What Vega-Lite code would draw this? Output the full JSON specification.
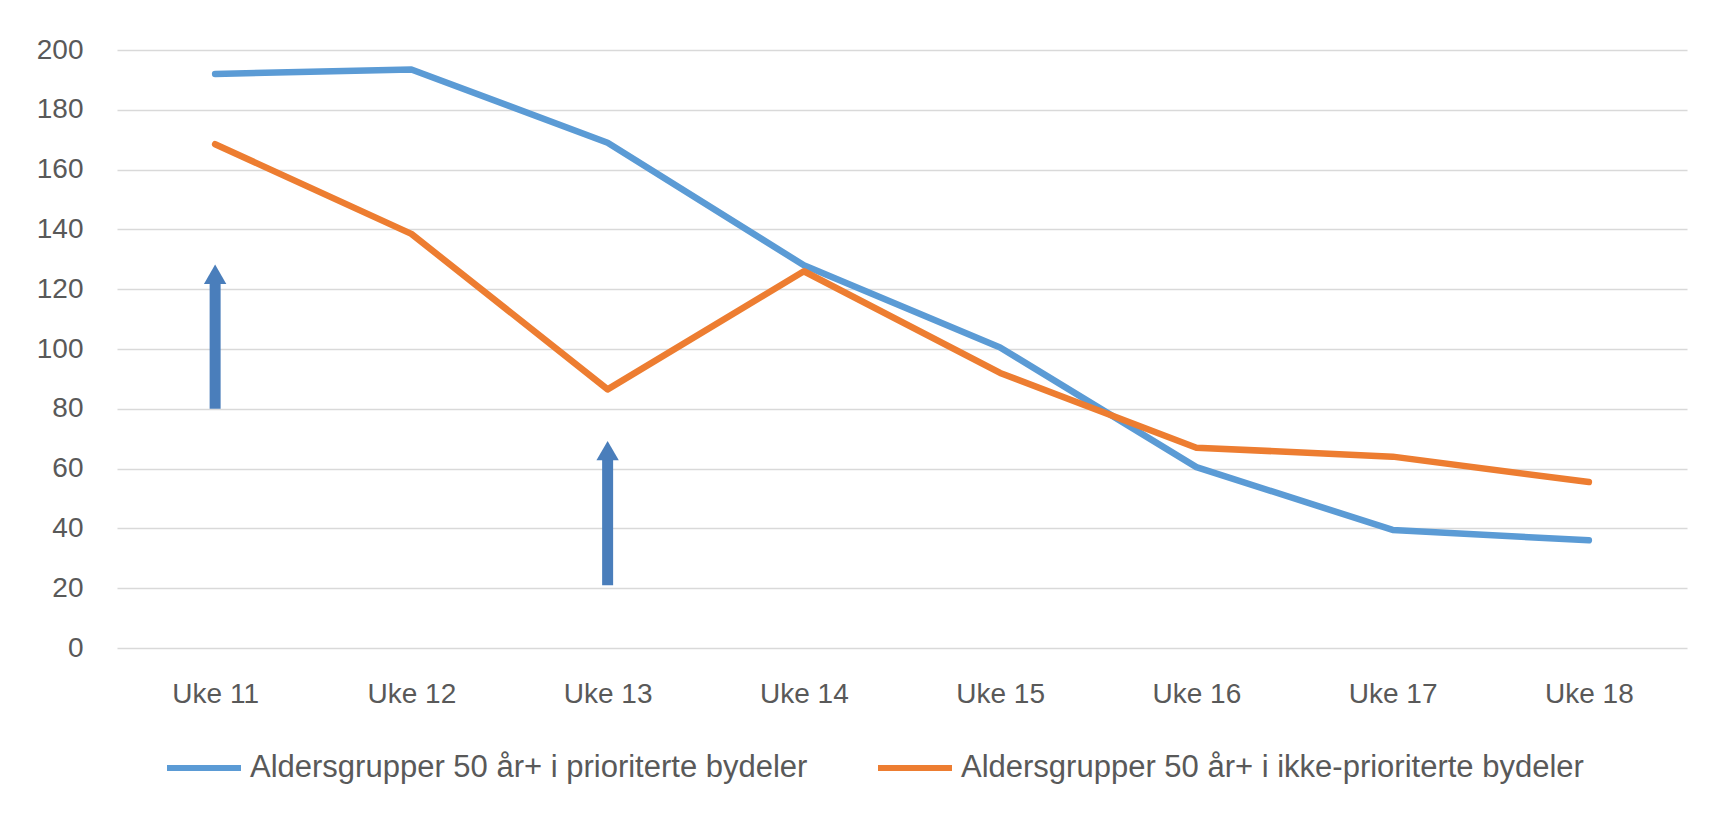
{
  "$schema": "https://vega.github.io/schema/vega-lite/v6.json",
  "width": 1570,
  "height": 598,
  "autosize": "none",
  "padding": {"left": 117, "top": 50, "right": 24, "bottom": 169},
  "background": "white",
  "config": {
    "view": {"stroke": null},
    "font": "Liberation Sans",
    "axis": {"labelColor": "#595959", "labelFontSize": 28, "ticks": false, "domain": false, "title": null, "gridColor": "#d9d9d9", "gridWidth": 1.5}
  },
  "datasets": {
    "series": [
      {"week": "Uke 11", "group": "Aldersgrupper 50 år+ i prioriterte bydeler", "value": 192},
      {"week": "Uke 12", "group": "Aldersgrupper 50 år+ i prioriterte bydeler", "value": 193.5},
      {"week": "Uke 13", "group": "Aldersgrupper 50 år+ i prioriterte bydeler", "value": 169},
      {"week": "Uke 14", "group": "Aldersgrupper 50 år+ i prioriterte bydeler", "value": 128},
      {"week": "Uke 15", "group": "Aldersgrupper 50 år+ i prioriterte bydeler", "value": 100.5},
      {"week": "Uke 16", "group": "Aldersgrupper 50 år+ i prioriterte bydeler", "value": 60.5},
      {"week": "Uke 17", "group": "Aldersgrupper 50 år+ i prioriterte bydeler", "value": 39.5},
      {"week": "Uke 18", "group": "Aldersgrupper 50 år+ i prioriterte bydeler", "value": 36},
      {"week": "Uke 11", "group": "Aldersgrupper 50 år+ i ikke-prioriterte bydeler", "value": 168.5},
      {"week": "Uke 12", "group": "Aldersgrupper 50 år+ i ikke-prioriterte bydeler", "value": 138.5},
      {"week": "Uke 13", "group": "Aldersgrupper 50 år+ i ikke-prioriterte bydeler", "value": 86.5},
      {"week": "Uke 14", "group": "Aldersgrupper 50 år+ i ikke-prioriterte bydeler", "value": 126},
      {"week": "Uke 15", "group": "Aldersgrupper 50 år+ i ikke-prioriterte bydeler", "value": 92},
      {"week": "Uke 16", "group": "Aldersgrupper 50 år+ i ikke-prioriterte bydeler", "value": 67},
      {"week": "Uke 17", "group": "Aldersgrupper 50 år+ i ikke-prioriterte bydeler", "value": 64},
      {"week": "Uke 18", "group": "Aldersgrupper 50 år+ i ikke-prioriterte bydeler", "value": 55.5}
    ],
    "arrows": [
      {"week": "Uke 11", "from": 80, "to": 122, "tip": 125},
      {"week": "Uke 13", "from": 21, "to": 63, "tip": 66}
    ]
  },
  "layer": [
    {
      "data": {"name": "series"},
      "mark": {"type": "line", "strokeWidth": 6.5, "strokeCap": "round", "strokeJoin": "round"},
      "encoding": {
        "x": {"field": "week", "type": "ordinal", "scale": {"type": "point", "padding": 0.5}, "axis": {"labelPadding": 32, "grid": false, "labelAngle": 0}},
        "y": {"field": "value", "type": "quantitative", "scale": {"domain": [0, 200], "nice": false}, "axis": {"values": [0,20,40,60,80,100,120,140,160,180,200], "labelPadding": 34}},
        "color": {
          "field": "group", "type": "nominal",
          "scale": {"domain": ["Aldersgrupper 50 år+ i prioriterte bydeler", "Aldersgrupper 50 år+ i ikke-prioriterte bydeler"], "range": ["#5b9bd5", "#ed7d31"]},
          "legend": {"title": null, "orient": "none", "legendX": 47, "legendY": 678, "direction": "horizontal", "symbolType": "stroke", "symbolStrokeWidth": 6, "symbolSize": 5476, "labelFontSize": 31, "labelColor": "#595959", "labelOffset": 6, "columnPadding": 58, "labelLimit": 900}
        }
      }
    },
    {
      "data": {"name": "arrows"},
      "mark": {"type": "rule", "strokeWidth": 11, "color": "#4a7ebb"},
      "encoding": {
        "x": {"field": "week", "type": "ordinal"},
        "y": {"field": "from", "type": "quantitative"},
        "y2": {"field": "to"}
      }
    },
    {
      "data": {"name": "arrows"},
      "mark": {"type": "point", "shape": "triangle-up", "filled": true, "size": 500, "color": "#4a7ebb", "opacity": 1},
      "encoding": {
        "x": {"field": "week", "type": "ordinal"},
        "y": {"field": "tip", "type": "quantitative"}
      }
    }
  ]
}
